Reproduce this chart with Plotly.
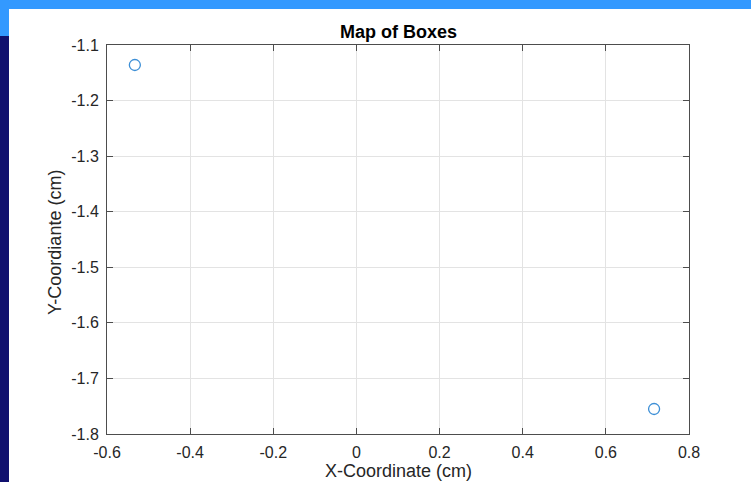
import plotly.graph_objects as go

x_vals = [-0.533, 0.716]
y_vals = [-1.136, -1.755]
x_ticks = [-0.6, -0.4, -0.2, 0, 0.2, 0.4, 0.6, 0.8]
x_tick_text = ["-0.6", "-0.4", "-0.2", "0", "0.2", "0.4", "0.6", "0.8"]
y_ticks = [-1.8, -1.7, -1.6, -1.5, -1.4, -1.3, -1.2, -1.1]
y_tick_text = ["-1.8", "-1.7", "-1.6", "-1.5", "-1.4", "-1.3", "-1.2", "-1.1"]
chart_title = "Map of Boxes"
x_title = "X-Coordinate (cm)"
y_title = "Y-Coordiante (cm)"

W, H = 751, 482
L, R, T, B = 107, 62, 45, 48
pw, ph = W - L - R, H - T - B
FONT = "Liberation Sans, Arial, Helvetica, sans-serif"

def px(x):
    return (x - L) / pw

def py(y):
    return (H - B - y) / ph

fig = go.Figure()
fig.add_trace(go.Scatter(
    x=x_vals, y=y_vals, mode="markers",
    marker=dict(symbol="circle-open", size=11, color="#3d8fd6", line=dict(width=1.3, color="#3d8fd6")),
    showlegend=False, cliponaxis=False,
))

shapes = [
    dict(type="rect", xref="paper", yref="paper", x0=px(0), x1=px(W), y0=py(0), y1=py(9),
         fillcolor="#3399ff", line=dict(width=0), layer="below"),
    dict(type="rect", xref="paper", yref="paper", x0=px(0), x1=px(9), y0=py(9), y1=py(36),
         fillcolor="#3399ff", line=dict(width=0), layer="below"),
    dict(type="rect", xref="paper", yref="paper", x0=px(0), x1=px(9), y0=py(36), y1=py(H),
         fillcolor="#10106e", line=dict(width=0), layer="below"),
]

annotations = [
    dict(text="<b>" + chart_title + "</b>", xref="paper", yref="paper", x=0.5, y=py(32),
         xanchor="center", yanchor="middle", showarrow=False,
         font=dict(family=FONT, size=18, color="#000000")),
    dict(text=x_title, xref="paper", yref="paper", x=0.5, y=py(471),
         xanchor="center", yanchor="middle", showarrow=False,
         font=dict(family=FONT, size=18, color="#262626")),
    dict(text=y_title, xref="paper", yref="paper", x=px(55), y=py(243),
         xanchor="center", yanchor="middle", showarrow=False, textangle=-90,
         font=dict(family=FONT, size=18, color="#262626")),
]

axis_common = dict(
    showgrid=True, gridcolor="#e3e3e3", gridwidth=1,
    showline=True, linecolor="#4d4d4d", linewidth=1, mirror="ticks",
    ticks="inside", ticklen=6, tickcolor="#4d4d4d", tickwidth=1,
    zeroline=False, automargin=False, ticklabelstandoff=4,
    tickfont=dict(family=FONT, size=16, color="#262626"),
)

fig.update_layout(
    width=W, height=H, autosize=False,
    margin=dict(l=L, r=R, t=T, b=B),
    paper_bgcolor="white", plot_bgcolor="white",
    shapes=shapes,
    annotations=annotations,
    xaxis=dict(range=[-0.6, 0.8], tickvals=x_ticks, ticktext=x_tick_text, **axis_common),
    yaxis=dict(range=[-1.8, -1.1], tickvals=y_ticks, ticktext=y_tick_text, **axis_common),
)

fig.write_html(
    "out.html",
    config={"displayModeBar": False},
    post_script="document.body.style.margin='0px';document.body.style.overflow='hidden';",
)
